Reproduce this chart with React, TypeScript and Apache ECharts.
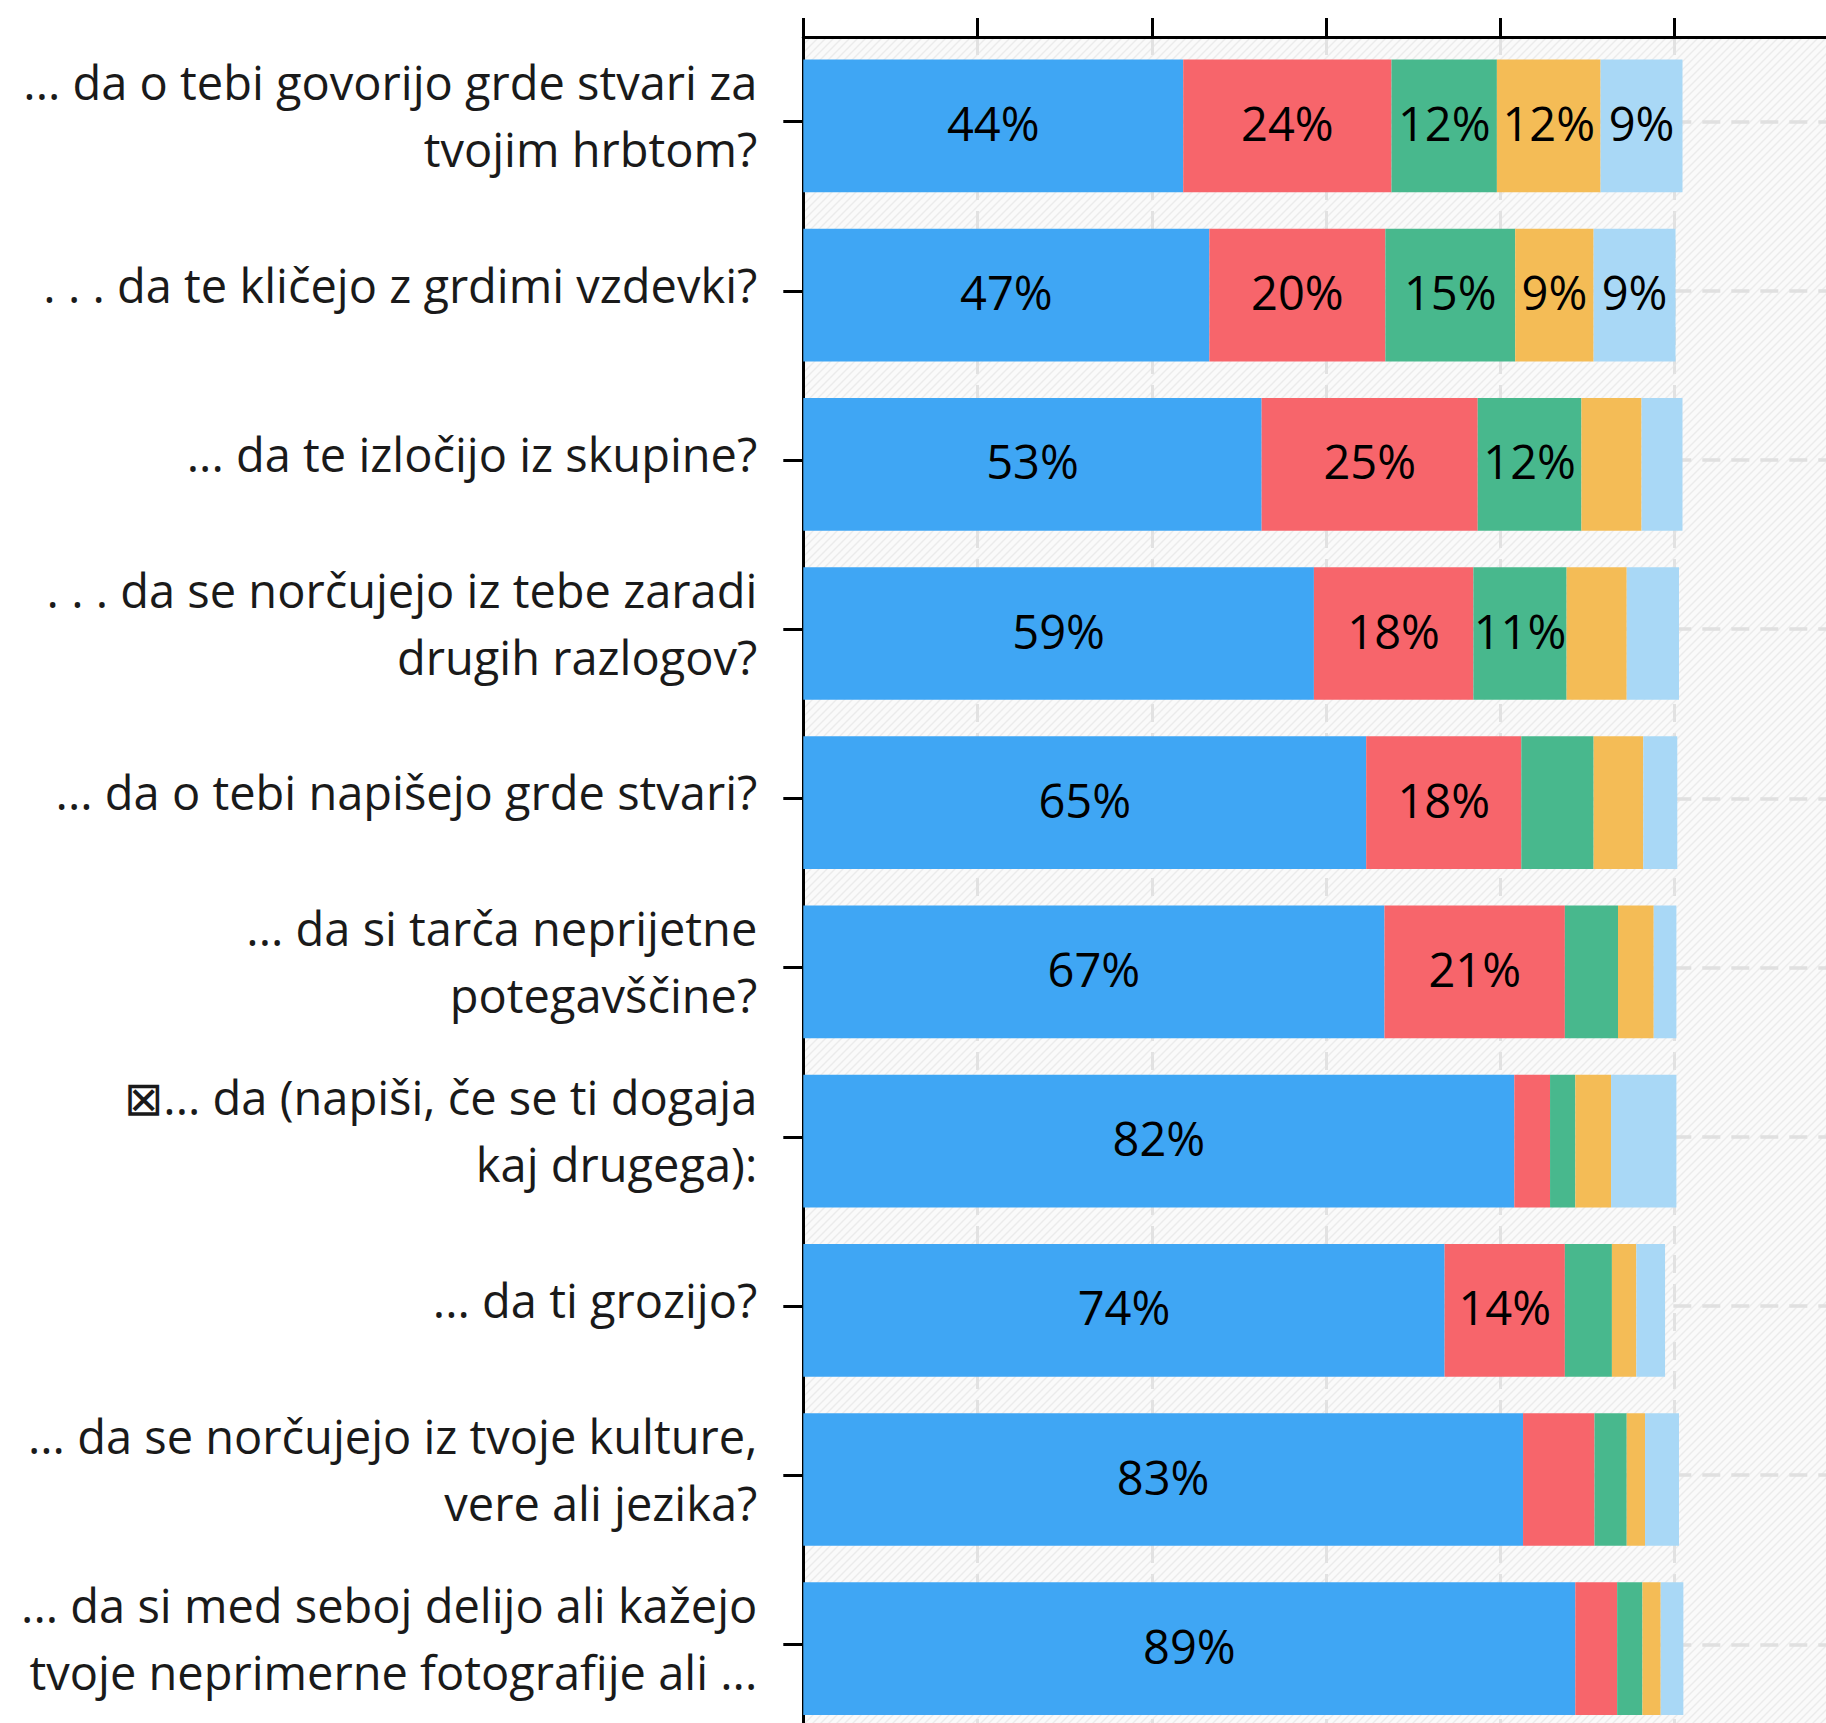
import React, { useEffect, useRef } from "react";
import * as echarts from "echarts";

const categories: string[] = [
  "... da o tebi govorijo grde stvari za\ntvojim hrbtom?",
  ". . . da te kličejo z grdimi vzdevki?",
  "... da te izločijo iz skupine?",
  ". . . da se norčujejo iz tebe zaradi\ndrugih razlogov?",
  "... da o tebi napišejo grde stvari?",
  "... da si tarča neprijetne\npotegavščine?",
  "\u22a0... da (napiši, če se ti dogaja\nkaj drugega):",
  "... da ti grozijo?",
  "... da se norčujejo iz tvoje kulture,\nvere ali jezika?",
  "... da si med seboj delijo ali kažejo\ntvoje neprimerne fotografije ali ...",
];

const blueValues = [43.6, 46.6, 52.6, 58.6, 64.6, 66.7, 81.6, 73.6, 82.6, 88.6];
const redValues = [23.9, 20.2, 24.8, 18.3, 17.8, 20.7, 4.1, 13.8, 8.2, 4.8];
const greenValues = [12.1, 14.9, 11.9, 10.7, 8.3, 6.1, 2.9, 5.4, 3.7, 2.9];
const yellowValues = [11.9, 9.0, 6.9, 6.9, 5.7, 4.1, 4.1, 2.8, 2.1, 2.1];
const lightBlueValues = [9.4, 9.4, 4.7, 6.0, 3.9, 2.6, 7.5, 3.3, 3.9, 2.6];

const xTicks = [0, 20, 40, 60, 80, 100, 120];

const seriesDefs = [
  { name: "s1", data: blueValues, color: "#3fa6f4" },
  { name: "s2", data: redValues, color: "#f7656b" },
  { name: "s3", data: greenValues, color: "#48b88d" },
  { name: "s4", data: yellowValues, color: "#f4bc56" },
  { name: "s5", data: lightBlueValues, color: "#a9d8f6" },
];

function makeHatch() {
  const c = document.createElement("canvas");
  c.width = 8;
  c.height = 8;
  const ctx = c.getContext("2d")!;
  ctx.fillStyle = "#fafafa";
  ctx.fillRect(0, 0, 8, 8);
  ctx.strokeStyle = "#ebebeb";
  ctx.lineWidth = 1.4;
  ctx.beginPath();
  ctx.moveTo(-1, 9);
  ctx.lineTo(9, -1);
  ctx.moveTo(-1, 1);
  ctx.lineTo(1, -1);
  ctx.moveTo(7, 9);
  ctx.lineTo(9, 7);
  ctx.stroke();
  return c;
}

export default function App() {
  const ref = useRef<HTMLDivElement>(null);
  useEffect(() => {
    document.body.style.margin = "0";
    if (!ref.current) return;
    const chart = echarts.init(ref.current, undefined, { renderer: "svg" });
    const fontFamily = "'Open Sans', Lato, sans-serif";
    const option: any = {
      animation: false,
      backgroundColor: "#ffffff",
      grid: {
        show: true,
        outerBoundsMode: "none",
        containLabel: false,
        left: 803.3,
        top: 37,
        width: 174.27 * (xTicks.length - 1),
        height: 1692,
        backgroundColor: { image: makeHatch(), repeat: "repeat" },
        borderWidth: 0,
      },
      xAxis: {
        type: "value",
        position: "top",
        min: xTicks[0],
        max: xTicks[xTicks.length - 1],
        interval: 20,
        axisLine: { show: true, lineStyle: { color: "#000", width: 3 } },
        axisTick: { show: true, length: 19, lineStyle: { color: "#000", width: 3 } },
        axisLabel: { show: false },
        splitLine: {
          show: true,
          lineStyle: { color: "#e2e2e2", width: 3, type: [18, 11] },
        },
      },
      yAxis: {
        type: "category",
        inverse: true,
        data: categories,
        axisLine: { show: true, lineStyle: { color: "#000", width: 3 } },
        axisTick: {
          show: true,
          alignWithLabel: true,
          length: 20,
          lineStyle: { color: "#000", width: 3 },
        },
        axisLabel: {
          margin: 46,
          fontSize: 47,
          lineHeight: 67,
          fontFamily,
          color: "#1a1a1a",
          interval: 0,
          formatter: (v: string) => v + "\n{s| }",
          rich: { s: { fontSize: 1, lineHeight: 12 } },
        },
        splitLine: {
          show: true,
          alignWithLabel: true,
          interval: 0,
          lineStyle: { color: "#e0e0e0", width: 3.5, type: [18, 11] },
        },
      },
      series: [
        {
          name: "pad",
          type: "bar",
          stack: "pad",
          barWidth: 8.6,
          barGap: "0%",
          data: categories.map(() => 0),
          itemStyle: { color: "rgba(0,0,0,0)" },
          silent: true,
        },
        ...seriesDefs.map((s) => ({
          name: s.name,
          type: "bar",
          stack: "total",
          barWidth: 132.7,
          barGap: "0%",
          data: s.data,
          itemStyle: { color: s.color },
          label: {
            show: true,
            position: "inside",
            offset: [0, -3],
            fontSize: 47,
            fontFamily,
            color: "#000",
            formatter: (p: any) => {
              const r = Math.round(p.value);
              return r >= 9 ? r + "%" : "";
            },
          },
        })),
      ],
    };
    chart.setOption(option);
    return () => chart.dispose();
  }, []);
  return (
    <div
      ref={ref}
      style={{ position: "absolute", left: 0, top: 0, width: 1826, height: 1723 }}
    />
  );
}
